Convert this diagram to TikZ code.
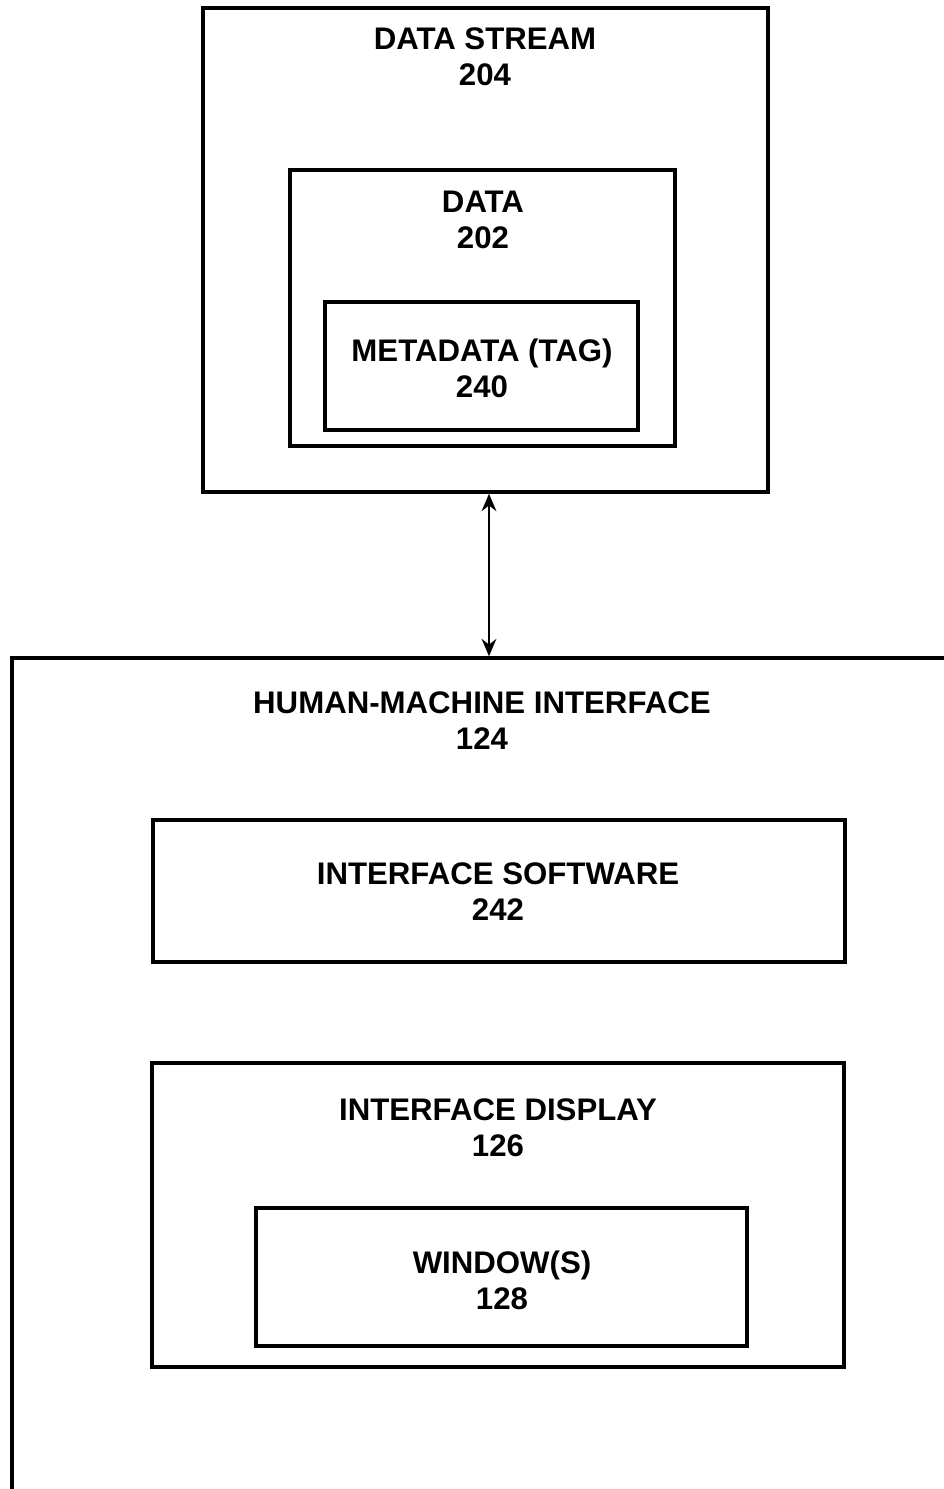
\documentclass[tikz,border=0pt]{standalone}
\usepackage{fontspec}
\setmainfont{Liberation Sans}
\usetikzlibrary{fit,arrows.meta}
\begin{document}
\begin{tikzpicture}[x=0.75pt,y=-0.75pt,
  box/.style={draw=black,line width=2.6pt,inner sep=0pt,rectangle},
  lbl/.style={font=\bfseries\fontsize{23.4}{27}\selectfont,align=center,inner sep=0pt}]
\useasboundingbox (0,0) rectangle (943,1489);
\fill[white] (0,0) rectangle (943,1489);
% boxes
\node[box,fit={(203,8)(768,492)}] (ds) {};
\node[box,fit={(290,170)(675,446)}] (data) {};
\node[box,fit={(325,302)(638,430)}] (meta) {};
\node[box,fit={(12,658)(1000,1560)}] (hmi) {};
\node[box,fit={(153,820)(845,962)}] (sw) {};
\node[box,fit={(152,1063)(844,1367)}] (disp) {};
\node[box,fit={(256,1208)(747,1346)}] (win) {};
% labels
\node[lbl] (dsl) at (485,57) {DATA STREAM\\204};
\node[lbl] (datal) at (483,220) {DATA\\202};
\node[lbl] (metal) at (482,368) {METADATA (TAG)\\240};
\node[lbl] (hmil) at (482,721) {HUMAN-MACHINE INTERFACE\\124};
\node[lbl] (swl) at (498,892) {INTERFACE SOFTWARE\\242};
\node[lbl] (displ) at (498,1128) {INTERFACE DISPLAY\\126};
\node[lbl] (winl) at (502,1280) {WINDOW(S)\\128};
% connector
\coordinate (ax) at (489,0);
\draw[line width=1.8pt,{Stealth[length=13pt,width=11pt]}-{Stealth[length=13pt,width=11pt]}]
  (ds.south -| ax) -- (hmi.north -| ax);
\end{tikzpicture}
\end{document}
